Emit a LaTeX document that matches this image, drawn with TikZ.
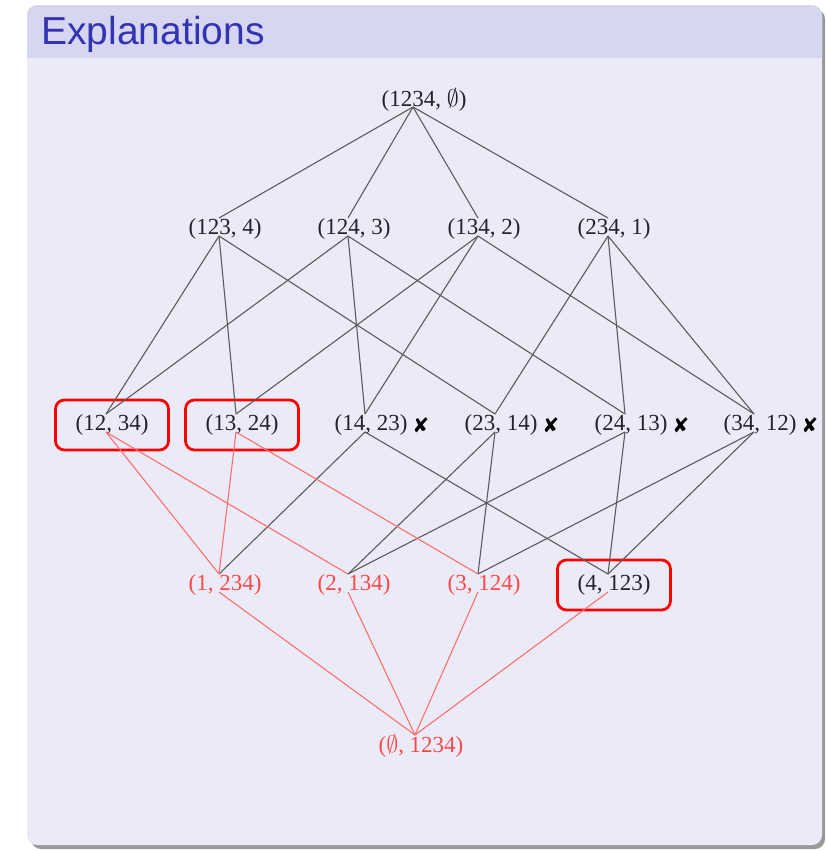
\documentclass[tikz,border=0pt]{standalone}
\usepackage{fontspec}
\setmainfont{Liberation Serif}
\newfontfamily\titlefont{Liberation Sans}
\usepackage{pifont}
\usetikzlibrary{calc}
\definecolor{barfill}{RGB}{214,214,240}
\definecolor{bodyfill}{RGB}{235,235,247}
\definecolor{titleink}{RGB}{51,51,179}
\definecolor{ink}{RGB}{35,35,45}
\definecolor{hasse}{RGB}{90,90,95}
\definecolor{pick}{RGB}{252,72,72}
\definecolor{pickline}{RGB}{255,110,110}
\newcommand{\nodefont}{\fontsize{11.5}{13}\selectfont}
\newcommand{\nope}{{\fontsize{10.5}{11}\selectfont\ding{56}}}
\tikzset{
 every node/.append style={font=\nodefont,text=ink},
 elem/.style={inner sep=0pt},
 kept/.style={elem,text=pick},
 chosen/.style={elem,draw=red,line width=1.4pt,rounded corners=4.5pt,minimum width=56.5pt,minimum height=25pt},
 ruled/.style={elem,label={[inner sep=0pt,label distance=3pt,text=black]east:\nope}},
 edge/.style={draw=hasse,line width=.55pt},
 redge/.style={draw=pickline,line width=.55pt},
 head/.style={font=\titlefont\fontsize{19.5}{22}\selectfont,text=titleink,inner sep=0pt,anchor=base west},
}

\begin{document}
\begin{tikzpicture}[x=0.5pt,y=-0.5pt]

\useasboundingbox (0,0) rectangle (826,851);
% block
\fill[black!40,rounded corners=5pt] (31,9) rectangle (825,849);
\fill[bodyfill,rounded corners=5pt] (27,5) rectangle (822,845);
\fill[barfill] (27,58) {[rounded corners=5pt] -- (27,5) -- (822,5)} -- (822,58) -- cycle;
\node[head] (title) at (41,44) {Explanations};

% lattice of bipartitions
\node[elem] (a1234) at (424,100) {(1234, $\emptyset$)};
\node[elem] (a123) at (225,229) {(123, 4)};
\node[elem] (a124) at (354,229) {(124, 3)};
\node[elem] (a134) at (484,229) {(134, 2)};
\node[elem] (a234) at (614,229) {(234, 1)};
\node[chosen] (a12) at (112,425) {(12, 34)};
\node[chosen] (a13) at (242,425) {(13, 24)};
\node[ruled] (a14) at (371,425) {(14, 23)};
\node[ruled] (a23) at (501,425) {(23, 14)};
\node[ruled] (a24) at (631,425) {(24, 13)};
\node[ruled] (a34) at (760,425) {(34, 12)};
\node[kept] (a1) at (225,585) {(1, 234)};
\node[kept] (a2) at (354,585) {(2, 134)};
\node[kept] (a3) at (484,585) {(3, 124)};
\node[chosen] (a4) at (614,585) {(4, 123)};
\node[kept] (a0) at (421,746) {($\emptyset$, 1234)};

\foreach \u/\l in {a123/a12,a123/a13,a123/a23,a124/a12,a124/a14,a124/a24,
  a134/a13,a134/a14,a134/a34,a234/a23,a234/a24,a234/a34,
  a14/a1,a14/a4,a23/a2,a23/a3,a24/a2,a24/a4,a34/a3,a34/a4}
  \draw[edge] ([xshift=-3pt,yshift=-3.5pt]\u.center) -- ([xshift=-3pt,yshift=5.5pt]\l.center);
\foreach \l in {a123,a124,a134,a234}
  \draw[edge] ([xshift=-5.5pt,yshift=-3.5pt]a1234.center) -- ([xshift=-3pt,yshift=5.5pt]\l.center);
\foreach \u/\l in {a12/a1,a12/a2,a13/a1,a13/a3,a1/a0,a2/a0,a3/a0,a4/a0}
  \draw[redge] ([xshift=-3pt,yshift=-3.5pt]\u.center) -- ([xshift=-3pt,yshift=5.5pt]\l.center);

\end{tikzpicture}
\end{document}
